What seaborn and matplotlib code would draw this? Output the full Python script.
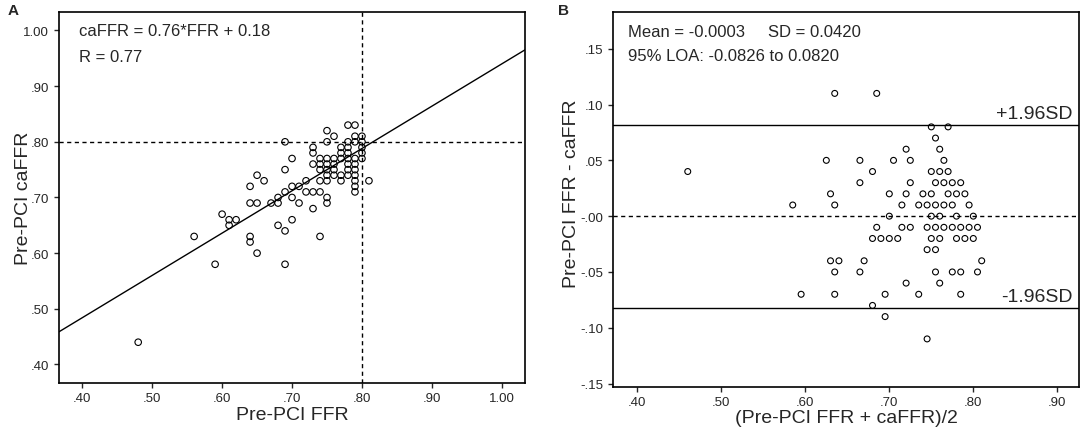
import numpy as np
import pandas as pd
import seaborn as sns
import matplotlib.pyplot as plt
from matplotlib.ticker import FixedLocator, FixedFormatter

sns.set_style("ticks")
plt.rcParams["font.family"] = ["Liberation Sans", "DejaVu Sans"]

# Panel A: pre-PCI FFR vs caFFR
ffr_a = [0.48, 0.56, 0.59, 0.60, 0.61, 0.61, 0.62,
         0.64, 0.64, 0.64, 0.64, 0.65, 0.65, 0.65, 0.66, 0.67,
         0.68, 0.68, 0.68, 0.69, 0.69, 0.69, 0.69, 0.69,
         0.70, 0.70, 0.70, 0.70, 0.71, 0.71, 0.72, 0.72,
         0.73, 0.73, 0.73, 0.73, 0.73,
         0.74, 0.74, 0.74, 0.74, 0.74, 0.74,
         0.75, 0.75, 0.75, 0.75, 0.75, 0.75, 0.75, 0.75, 0.75,
         0.76, 0.76, 0.76, 0.76, 0.76,
         0.77, 0.77, 0.77, 0.77, 0.77,
         0.78, 0.78, 0.78, 0.78, 0.78, 0.78, 0.78, 0.78,
         0.79, 0.79, 0.79, 0.79, 0.79, 0.79, 0.79, 0.79, 0.79, 0.79,
         0.80, 0.80, 0.80, 0.80, 0.80, 0.81]
caffr_a = [0.44, 0.63, 0.58, 0.67, 0.66, 0.65, 0.66,
           0.72, 0.69, 0.63, 0.62, 0.74, 0.69, 0.60, 0.73, 0.69,
           0.70, 0.69, 0.65, 0.80, 0.75, 0.71, 0.64, 0.58,
           0.77, 0.72, 0.70, 0.66, 0.72, 0.69, 0.73, 0.71,
           0.79, 0.78, 0.76, 0.71, 0.68,
           0.77, 0.76, 0.75, 0.73, 0.71, 0.63,
           0.82, 0.80, 0.77, 0.76, 0.75, 0.74, 0.73, 0.70, 0.69,
           0.81, 0.77, 0.76, 0.75, 0.74,
           0.79, 0.78, 0.77, 0.74, 0.73,
           0.83, 0.80, 0.79, 0.78, 0.77, 0.76, 0.75, 0.74,
           0.83, 0.81, 0.80, 0.77, 0.76, 0.75, 0.74, 0.73, 0.72, 0.71,
           0.81, 0.80, 0.79, 0.78, 0.77, 0.73]

# Panel B: Bland-Altman
mean_b = [0.635, 0.685, 0.75, 0.77, 0.755, 0.76, 0.72,
          0.625, 0.665, 0.705, 0.725, 0.765,
          0.46, 0.68, 0.75, 0.76, 0.77,
          0.665, 0.725, 0.755, 0.765, 0.775, 0.785,
          0.63, 0.70, 0.72, 0.74, 0.75, 0.77, 0.78, 0.79,
          0.585, 0.635, 0.715, 0.735, 0.745, 0.755, 0.765, 0.775, 0.795,
          0.70, 0.75, 0.76, 0.78, 0.80,
          0.685, 0.715, 0.725, 0.745, 0.755, 0.765, 0.775, 0.785, 0.795, 0.805,
          0.68, 0.69, 0.70, 0.71, 0.75, 0.76, 0.78, 0.79, 0.80,
          0.745, 0.755,
          0.63, 0.64, 0.67, 0.81,
          0.635, 0.665, 0.755, 0.775, 0.785, 0.805,
          0.72, 0.76,
          0.595, 0.635, 0.695, 0.735, 0.785,
          0.68, 0.695, 0.745]
diff_b = [0.11, 0.11, 0.08, 0.08, 0.07, 0.06, 0.06,
          0.05, 0.05, 0.05, 0.05, 0.05,
          0.04, 0.04, 0.04, 0.04, 0.04,
          0.03, 0.03, 0.03, 0.03, 0.03, 0.03,
          0.02, 0.02, 0.02, 0.02, 0.02, 0.02, 0.02, 0.02,
          0.01, 0.01, 0.01, 0.01, 0.01, 0.01, 0.01, 0.01, 0.01,
          0.00, 0.00, 0.00, 0.00, 0.00,
          -0.01, -0.01, -0.01, -0.01, -0.01, -0.01, -0.01, -0.01, -0.01, -0.01,
          -0.02, -0.02, -0.02, -0.02, -0.02, -0.02, -0.02, -0.02, -0.02,
          -0.03, -0.03,
          -0.04, -0.04, -0.04, -0.04,
          -0.05, -0.05, -0.05, -0.05, -0.05, -0.05,
          -0.06, -0.06,
          -0.07, -0.07, -0.07, -0.07, -0.07,
          -0.08, -0.09, -0.11]

slope, intercept = 0.76, 0.18
mean_diff, loa_low, loa_high = -0.0003, -0.0826, 0.0820

df_a = pd.DataFrame({"ffr": ffr_a, "caffr": caffr_a})
df_b = pd.DataFrame({"avg": mean_b, "diff": diff_b})

fig = plt.figure(figsize=(10.84, 4.31), dpi=100)
ax1 = fig.add_axes([0.0544, 0.109, 0.430, 0.861])
ax2 = fig.add_axes([0.5655, 0.100, 0.430, 0.870])

# ---- A ----
sns.scatterplot(data=df_a, x="ffr", y="caffr", ax=ax1, marker="o", s=22,
                facecolor="none", edgecolor="black", linewidth=0.8)
ax1.axline((0, intercept), slope=slope, color="black", lw=1)
ax1.axhline(0.80, color="black", ls=(0, (3, 2.5)), lw=1)
ax1.axvline(0.80, color="black", ls=(0, (3, 2.5)), lw=1)
ax1.set_xlim(0.3667, 1.0333)
ax1.set_ylim(0.3667, 1.0333)
ticks_a = [0.4, 0.5, 0.6, 0.7, 0.8, 0.9, 1.0]
labels_a = [".40", ".50", ".60", ".70", ".80", ".90", "1.00"]
ax1.xaxis.set_major_locator(FixedLocator(ticks_a))
ax1.xaxis.set_major_formatter(FixedFormatter(labels_a))
ax1.yaxis.set_major_locator(FixedLocator(ticks_a))
ax1.yaxis.set_major_formatter(FixedFormatter(labels_a))
ax1.set_xlabel("Pre-PCI FFR", fontsize=14)
ax1.set_ylabel("Pre-PCI caFFR", fontsize=14)
ax1.xaxis.set_label_coords(0.5, -0.062)
ax1.yaxis.set_label_coords(-0.058, 0.5)
ax1.text(0.043, 0.949, "caFFR = 0.76*FFR + 0.18", transform=ax1.transAxes,
         fontsize=12, va="center")
ax1.text(0.043, 0.881, "R = 0.77", transform=ax1.transAxes,
         fontsize=12, va="center")
fig.text(0.007, 0.975, "A", fontsize=11, fontweight="bold", va="center")

# ---- B ----
sns.scatterplot(data=df_b, x="avg", y="diff", ax=ax2, marker="o", s=18,
                facecolor="none", edgecolor="black", linewidth=0.8)
ax2.axhline(loa_high, color="black", lw=1)
ax2.axhline(loa_low, color="black", lw=1)
ax2.axhline(mean_diff, color="black", ls=(0, (3, 2.5)), lw=1)
ax2.set_xlim(0.371, 0.926)
ax2.set_ylim(-0.153, 0.183)
ax2.xaxis.set_major_locator(FixedLocator([0.4, 0.5, 0.6, 0.7, 0.8, 0.9]))
ax2.xaxis.set_major_formatter(FixedFormatter([".40", ".50", ".60", ".70", ".80", ".90"]))
ax2.yaxis.set_major_locator(FixedLocator([0.15, 0.10, 0.05, 0.0, -0.05, -0.10, -0.15]))
ax2.yaxis.set_major_formatter(FixedFormatter([".15", ".10", ".05", "-.00", "-.05", "-.10", "-.15"]))
ax2.set_xlabel("(Pre-PCI FFR + caFFR)/2", fontsize=14)
ax2.set_ylabel("Pre-PCI FFR - caFFR", fontsize=14)
ax2.xaxis.set_label_coords(0.5, -0.058)
ax2.yaxis.set_label_coords(-0.071, 0.517)
ax2.text(0.032, 0.947, "Mean = -0.0003", transform=ax2.transAxes, fontsize=12, va="center")
ax2.text(0.333, 0.947, "SD = 0.0420", transform=ax2.transAxes, fontsize=12, va="center")
ax2.text(0.032, 0.883, "95% LOA: -0.0826 to 0.0820", transform=ax2.transAxes,
         fontsize=12, va="center")
ax2.text(0.985, 0.092, "+1.96SD", transform=ax2.get_yaxis_transform(),
         fontsize=14, ha="right", va="center")
ax2.text(0.985, -0.072, "-1.96SD", transform=ax2.get_yaxis_transform(),
         fontsize=14, ha="right", va="center")
fig.text(0.515, 0.975, "B", fontsize=11, fontweight="bold", va="center")

for ax in (ax1, ax2):
    for sp in ax.spines.values():
        sp.set_visible(True)
        sp.set_linewidth(1.2)
        sp.set_color("black")
    ax.tick_params(axis="both", direction="out", length=3.5, width=1,
                   labelsize=9.5, bottom=True, left=True,
                   top=False, right=False)
    ax.tick_params(axis="x", pad=3)
    ax.tick_params(axis="y", pad=3.5)
    ax.grid(False)

fig.savefig("out.png", dpi=100)
